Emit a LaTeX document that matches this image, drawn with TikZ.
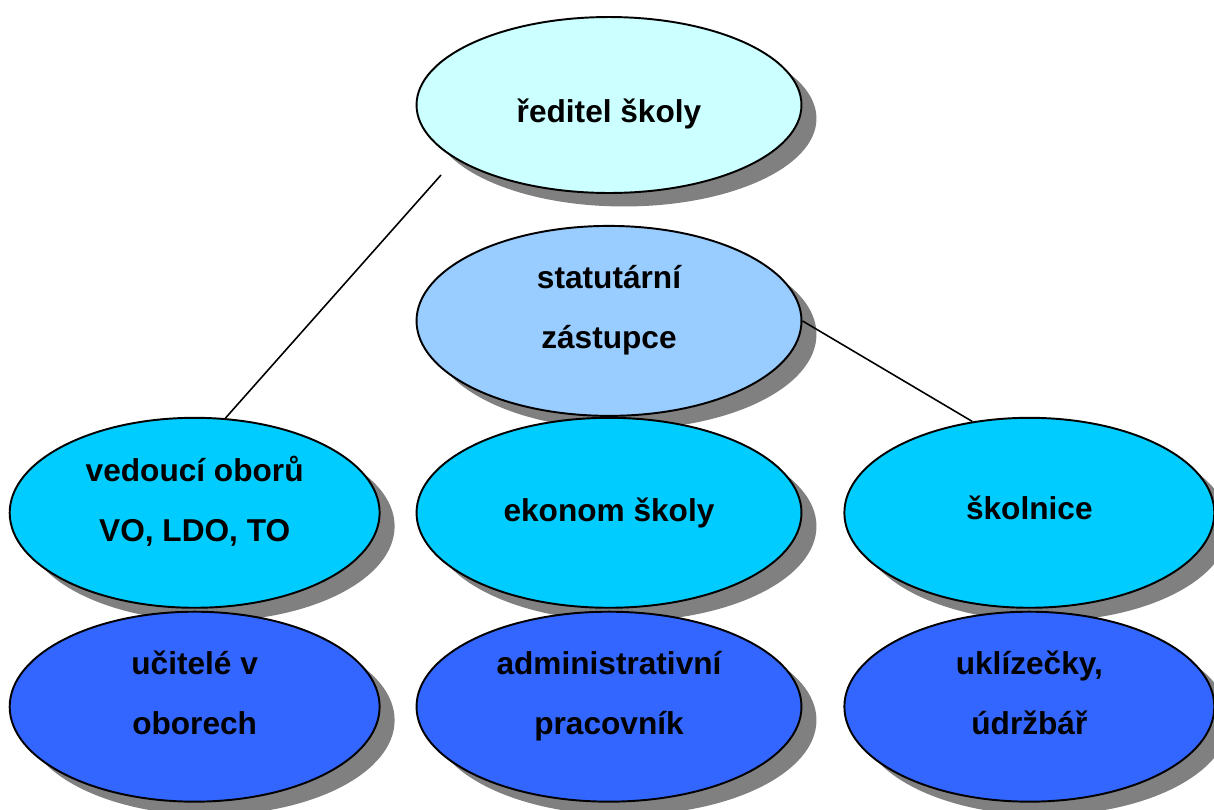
\documentclass[tikz,border=0pt]{standalone}
\usepackage{fontspec}
\setmainfont{Liberation Sans}
\definecolor{reditelfill}{RGB}{204,255,255}
\definecolor{zastupcefill}{RGB}{153,204,255}
\definecolor{vedenifill}{RGB}{0,204,255}
\definecolor{pracovnicifill}{RGB}{51,102,255}
\usetikzlibrary{positioning}
\usetikzlibrary{shapes.geometric,shadows}
\tikzset{
  org/.style={draw, ellipse, line width=1.1pt, align=center, inner sep=0pt,
    font=\fontsize{18}{34}\selectfont\bfseries,
    drop shadow={shadow xshift=0.3cm, shadow yshift=-0.27cm, fill=black!50, opacity=1},
    minimum width=7.7cm, minimum height=3.8cm},
  narrow/.style={minimum width=7.4cm},
  tworows/.style={text depth=16pt},
  spoj/.style={line width=0.9pt}
}

\begin{document}
\begin{tikzpicture}[x=0.02cm, y=-0.02cm]
  \useasboundingbox (0,0) rectangle (1214,809);

  \node [org, fill=reditelfill, minimum height=3.52cm, text height=24pt] (reditel) at (609,105) {ředitel školy};
  \node [org, tworows, fill=zastupcefill, below=0.62cm of reditel] (statutar) {statutární\\zástupce};
  \node [org, fill=vedenifill, below=0cm of statutar] (ekonom) {ekonom školy};
  \node [org, narrow, tworows, fill=vedenifill, left=0.7cm of ekonom] (vedouci) {vedoucí oborů\\VO, LDO, TO};
  \node [org, narrow, fill=vedenifill, text depth=6pt, right=0.82cm of ekonom] (skolnice) {školnice};
  \node [org, narrow, tworows, fill=pracovnicifill, below=0.04cm of vedouci] (ucitele) {učitelé v\\oborech};
  \node [org, tworows, fill=pracovnicifill, below=0.04cm of ekonom] (admin) {administrativní\\pracovník};
  \node [org, narrow, tworows, fill=pracovnicifill, below=0.04cm of skolnice] (uklizecky) {uklízečky,\\údržbář};

  \coordinate (k1) at (441,175);
  \draw [spoj] (k1) -- (vedouci.72);
  \draw [spoj] (statutar.east) -- (skolnice.122);
\end{tikzpicture}
\end{document}
